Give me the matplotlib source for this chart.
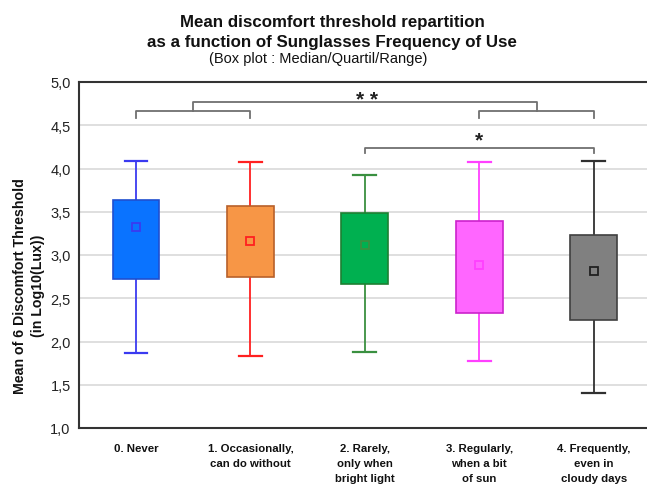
import matplotlib
matplotlib.use("Agg")
import matplotlib.pyplot as plt
from matplotlib.patches import Rectangle

plt.rcParams['font.family'] = ['Liberation Sans', 'DejaVu Sans']

categories = ["0. Never", "1. Occasionally,\ncan do without", "2. Rarely,\nonly when\nbright light",
              "3. Regularly,\nwhen a bit\nof sun", "4. Frequently,\neven in\ncloudy days"]
q1 = [2.72, 2.75, 2.66, 2.33, 2.25]
q3 = [3.64, 3.57, 3.49, 3.39, 3.23]
medians = [3.32, 3.16, 3.11, 2.88, 2.81]
lows = [1.87, 1.83, 1.88, 1.77, 1.40]
highs = [4.09, 4.07, 3.93, 4.07, 4.09]
yticks = [1.0, 1.5, 2.0, 2.5, 3.0, 3.5, 4.0, 4.5, 5.0]
ytick_labels = ["1,0", "1,5", "2,0", "2,5", "3,0", "3,5", "4,0", "4,5", "5,0"]

face_colors = ["#0A73FF", "#F79646", "#00B050", "#FF66FF", "#808080"]
edge_colors = ["#1F4FD0", "#B8602A", "#1E7F32", "#CC22CC", "#404040"]
whisker_colors = ["#3A3AF0", "#FF2020", "#3A9040", "#FF40FF", "#303030"]

W, H = 647, 485
fig = plt.figure(figsize=(W / 100, H / 100), dpi=100)
ax = fig.add_axes([79 / W, (H - 429) / H, (W - 79) / W, (429 - 83) / H])
ax.set_xlim(-0.498, 4.465)
ax.set_ylim(1.0, 5.0)

ax.set_yticks(yticks)
ax.set_yticklabels(ytick_labels, fontsize=10.5, color="#222222")
ax.yaxis.grid(True, color="#D9D9D9", linewidth=1.2, zorder=0)
ax.set_axisbelow(True)
ax.tick_params(axis='y', length=0, pad=6)
ax.set_xticks(range(len(categories)))
ax.set_xticklabels(categories, fontsize=8.2, fontweight='bold', color="#111111", va='top', linespacing=1.6)
ax.tick_params(axis='x', length=0, pad=11)
for s in ["left", "top", "bottom"]:
    ax.spines[s].set_color("#333333")
    ax.spines[s].set_linewidth(1.5)
ax.spines["right"].set_visible(False)

bw = 0.41
cw = 0.2
for i in range(len(categories)):
    ax.plot([i, i], [lows[i], q1[i]], color=whisker_colors[i], lw=1.3, zorder=2)
    ax.plot([i, i], [q3[i], highs[i]], color=whisker_colors[i], lw=1.3, zorder=2)
    ax.plot([i - cw / 2, i + cw / 2], [lows[i]] * 2, color=whisker_colors[i], lw=1.6, zorder=2)
    ax.plot([i - cw / 2, i + cw / 2], [highs[i]] * 2, color=whisker_colors[i], lw=1.6, zorder=2)
    ax.add_patch(Rectangle((i - bw / 2, q1[i]), bw, q3[i] - q1[i], facecolor=face_colors[i],
                           edgecolor=edge_colors[i], lw=1.2, zorder=3))
    ax.plot([i], [medians[i]], marker='s', markersize=5.5, markerfacecolor=face_colors[i],
            markeredgecolor=whisker_colors[i] if i != 4 else "#202020", markeredgewidth=1.3, zorder=4)

bc = "#707070"
def bracket(x0, x1, y, ytip):
    ax.plot([x0, x0, x1, x1], [ytip, y, y, ytip], color=bc, lw=1.3, clip_on=False, zorder=5)

bracket(0, 1, 4.668, 4.58)
bracket(3, 4, 4.668, 4.58)
bracket(0.5, 3.5, 4.765, 4.668)
ax.text(2.02, 4.80, "* *", ha='center', va='center', fontsize=15, fontweight='bold', color="#222222")
bracket(2, 4, 4.237, 4.18)
ax.text(3.0, 4.33, "*", ha='center', va='center', fontsize=15, fontweight='bold', color="#222222")

fig.text(332 / W, 1 - 23 / H, "Mean discomfort threshold repartition", ha='center', va='center',
         fontsize=12.2, fontweight='bold', color="#111111")
fig.text(332 / W, 1 - 42 / H, "as a function of Sunglasses Frequency of Use", ha='center', va='center',
         fontsize=12.2, fontweight='bold', color="#111111")
fig.text(318 / W, 1 - 59 / H, "(Box plot : Median/Quartil/Range)", ha='center', va='center',
         fontsize=10.5, color="#111111")
fig.text(29 / W, 1 - 286 / H, "Mean of 6 Discomfort Threshold\n(in Log10(Lux))", ha='center', va='center',
         rotation=90, fontsize=10.2, fontweight='bold', color="#111111", linespacing=1.35)

fig.savefig("out.png", dpi=100)
